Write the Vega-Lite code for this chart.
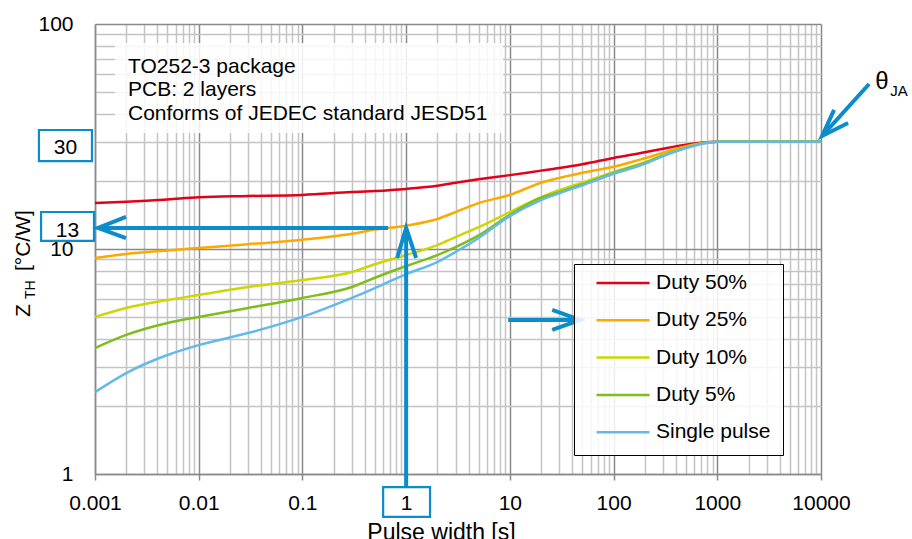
{
  "$schema": "https://vega.github.io/schema/vega-lite/v6.json",
  "width": 726,
  "height": 450,
  "autosize": {"type": "none"},
  "padding": {"left": 95, "top": 24, "right": 91, "bottom": 65},
  "background": "white",
  "config": {
    "font": "Liberation Sans",
    "view": {"stroke": null},
    "text": {"font": "Liberation Sans", "color": "#000"}
  },
  "datasets": {
    "curves": [
      {"s": "Duty 50%", "t": 0.001, "z": 16.0}, {"s": "Duty 50%", "t": 0.002, "z": 16.2}, {"s": "Duty 50%", "t": 0.005, "z": 16.6}, {"s": "Duty 50%", "t": 0.01, "z": 17.0}, {"s": "Duty 50%", "t": 0.03, "z": 17.2}, {"s": "Duty 50%", "t": 0.1, "z": 17.4}, {"s": "Duty 50%", "t": 0.3, "z": 17.9}, {"s": "Duty 50%", "t": 0.5, "z": 18.1}, {"s": "Duty 50%", "t": 1, "z": 18.5}, {"s": "Duty 50%", "t": 2, "z": 19.1}, {"s": "Duty 50%", "t": 3, "z": 19.7}, {"s": "Duty 50%", "t": 5, "z": 20.4}, {"s": "Duty 50%", "t": 10, "z": 21.3}, {"s": "Duty 50%", "t": 20, "z": 22.3}, {"s": "Duty 50%", "t": 30, "z": 22.9}, {"s": "Duty 50%", "t": 50, "z": 23.8}, {"s": "Duty 50%", "t": 100, "z": 25.4}, {"s": "Duty 50%", "t": 200, "z": 26.9}, {"s": "Duty 50%", "t": 300, "z": 27.9}, {"s": "Duty 50%", "t": 500, "z": 29.1}, {"s": "Duty 50%", "t": 700, "z": 29.7}, {"s": "Duty 50%", "t": 1000, "z": 30}, {"s": "Duty 50%", "t": 2000, "z": 30}, {"s": "Duty 50%", "t": 10000, "z": 30},
      {"s": "Duty 25%", "t": 0.001, "z": 9.12}, {"s": "Duty 25%", "t": 0.002, "z": 9.5}, {"s": "Duty 25%", "t": 0.005, "z": 9.85}, {"s": "Duty 25%", "t": 0.01, "z": 10.1}, {"s": "Duty 25%", "t": 0.03, "z": 10.5}, {"s": "Duty 25%", "t": 0.1, "z": 11.0}, {"s": "Duty 25%", "t": 0.3, "z": 11.7}, {"s": "Duty 25%", "t": 0.5, "z": 12.2}, {"s": "Duty 25%", "t": 1, "z": 12.7}, {"s": "Duty 25%", "t": 2, "z": 13.6}, {"s": "Duty 25%", "t": 3, "z": 14.6}, {"s": "Duty 25%", "t": 5, "z": 16.0}, {"s": "Duty 25%", "t": 10, "z": 17.4}, {"s": "Duty 25%", "t": 20, "z": 19.7}, {"s": "Duty 25%", "t": 30, "z": 20.7}, {"s": "Duty 25%", "t": 50, "z": 21.8}, {"s": "Duty 25%", "t": 100, "z": 23.2}, {"s": "Duty 25%", "t": 200, "z": 25.3}, {"s": "Duty 25%", "t": 300, "z": 26.8}, {"s": "Duty 25%", "t": 500, "z": 28.6}, {"s": "Duty 25%", "t": 700, "z": 29.5}, {"s": "Duty 25%", "t": 1000, "z": 30}, {"s": "Duty 25%", "t": 2000, "z": 30}, {"s": "Duty 25%", "t": 10000, "z": 30},
      {"s": "Duty 10%", "t": 0.001, "z": 4.99}, {"s": "Duty 10%", "t": 0.002, "z": 5.47}, {"s": "Duty 10%", "t": 0.005, "z": 5.93}, {"s": "Duty 10%", "t": 0.01, "z": 6.25}, {"s": "Duty 10%", "t": 0.03, "z": 6.78}, {"s": "Duty 10%", "t": 0.1, "z": 7.28}, {"s": "Duty 10%", "t": 0.3, "z": 7.9}, {"s": "Duty 10%", "t": 0.5, "z": 8.55}, {"s": "Duty 10%", "t": 1, "z": 9.4}, {"s": "Duty 10%", "t": 2, "z": 10.4}, {"s": "Duty 10%", "t": 3, "z": 11.3}, {"s": "Duty 10%", "t": 5, "z": 12.5}, {"s": "Duty 10%", "t": 10, "z": 14.6}, {"s": "Duty 10%", "t": 20, "z": 17.0}, {"s": "Duty 10%", "t": 30, "z": 18.3}, {"s": "Duty 10%", "t": 50, "z": 19.7}, {"s": "Duty 10%", "t": 100, "z": 22.0}, {"s": "Duty 10%", "t": 200, "z": 24.3}, {"s": "Duty 10%", "t": 300, "z": 26.2}, {"s": "Duty 10%", "t": 500, "z": 28.3}, {"s": "Duty 10%", "t": 700, "z": 29.4}, {"s": "Duty 10%", "t": 1000, "z": 30}, {"s": "Duty 10%", "t": 2000, "z": 30}, {"s": "Duty 10%", "t": 10000, "z": 30},
      {"s": "Duty 5%", "t": 0.001, "z": 3.63}, {"s": "Duty 5%", "t": 0.002, "z": 4.15}, {"s": "Duty 5%", "t": 0.005, "z": 4.69}, {"s": "Duty 5%", "t": 0.01, "z": 4.99}, {"s": "Duty 5%", "t": 0.03, "z": 5.47}, {"s": "Duty 5%", "t": 0.1, "z": 6.06}, {"s": "Duty 5%", "t": 0.3, "z": 6.78}, {"s": "Duty 5%", "t": 0.5, "z": 7.45}, {"s": "Duty 5%", "t": 1, "z": 8.4}, {"s": "Duty 5%", "t": 2, "z": 9.4}, {"s": "Duty 5%", "t": 3, "z": 10.2}, {"s": "Duty 5%", "t": 5, "z": 11.5}, {"s": "Duty 5%", "t": 10, "z": 14.2}, {"s": "Duty 5%", "t": 20, "z": 16.9}, {"s": "Duty 5%", "t": 30, "z": 17.9}, {"s": "Duty 5%", "t": 50, "z": 19.4}, {"s": "Duty 5%", "t": 100, "z": 21.8}, {"s": "Duty 5%", "t": 200, "z": 24.1}, {"s": "Duty 5%", "t": 300, "z": 26.0}, {"s": "Duty 5%", "t": 500, "z": 28.2}, {"s": "Duty 5%", "t": 700, "z": 29.4}, {"s": "Duty 5%", "t": 1000, "z": 30}, {"s": "Duty 5%", "t": 2000, "z": 30}, {"s": "Duty 5%", "t": 10000, "z": 30},
      {"s": "Single pulse", "t": 0.001, "z": 2.31}, {"s": "Single pulse", "t": 0.002, "z": 2.81}, {"s": "Single pulse", "t": 0.005, "z": 3.38}, {"s": "Single pulse", "t": 0.01, "z": 3.74}, {"s": "Single pulse", "t": 0.03, "z": 4.23}, {"s": "Single pulse", "t": 0.1, "z": 4.99}, {"s": "Single pulse", "t": 0.3, "z": 6.06}, {"s": "Single pulse", "t": 0.5, "z": 6.7}, {"s": "Single pulse", "t": 1, "z": 7.74}, {"s": "Single pulse", "t": 2, "z": 8.75}, {"s": "Single pulse", "t": 3, "z": 9.7}, {"s": "Single pulse", "t": 5, "z": 11.2}, {"s": "Single pulse", "t": 10, "z": 14.0}, {"s": "Single pulse", "t": 20, "z": 16.5}, {"s": "Single pulse", "t": 30, "z": 17.7}, {"s": "Single pulse", "t": 50, "z": 19.2}, {"s": "Single pulse", "t": 100, "z": 21.6}, {"s": "Single pulse", "t": 200, "z": 23.9}, {"s": "Single pulse", "t": 300, "z": 25.9}, {"s": "Single pulse", "t": 500, "z": 28.1}, {"s": "Single pulse", "t": 700, "z": 29.3}, {"s": "Single pulse", "t": 1000, "z": 30}, {"s": "Single pulse", "t": 2000, "z": 30}, {"s": "Single pulse", "t": 10000, "z": 30}
    ],
    "notebox": [
      {"t": 0.00156, "t2": 8.59, "z": 82.4, "z2": 32.8}
    ],
    "notes": [
      {"t": 0.00208, "z": 60.6, "label": "TO252-3 package"},
      {"t": 0.00208, "z": 47.9, "label": "PCB: 2 layers"},
      {"t": 0.00208, "z": 37.4, "label": "Conforms of JEDEC standard  JESD51"}
    ],
    "blueboxes": [
      {"t": 0.000288, "t2": 0.000935, "z": 33.8, "z2": 24.6},
      {"t": 0.000302, "t2": 0.000978, "z": 14.6, "z2": 10.86},
      {"t": 0.6, "t2": 1.70, "z": 0.875, "z2": 0.645}
    ],
    "boxtext": [
      {"t": 0.00052, "z": 26.4, "label": "30"},
      {"t": 0.000543, "z": 11.3, "label": "13"}
    ],
    "arrows": [
      {"id": "a1s", "o": 1, "t": 0.67, "z": 12.4}, {"id": "a1s", "o": 2, "t": 0.00107, "z": 12.4},
      {"id": "a1h", "o": 1, "t": 0.00199, "z": 13.88}, {"id": "a1h", "o": 2, "t": 0.00107, "z": 12.4}, {"id": "a1h", "o": 3, "t": 0.00199, "z": 11.19},
      {"id": "a2s", "o": 1, "t": 1, "z": 0.88}, {"id": "a2s", "o": 2, "t": 1, "z": 12.4},
      {"id": "a2h", "o": 1, "t": 0.819, "z": 9.12}, {"id": "a2h", "o": 2, "t": 1, "z": 12.4}, {"id": "a2h", "o": 3, "t": 1.249, "z": 9.12},
      {"id": "a3s", "o": 1, "t": 9.63, "z": 4.84}, {"id": "a3s", "o": 2, "t": 47.6, "z": 4.84},
      {"id": "a3h", "o": 1, "t": 25.6, "z": 5.36}, {"id": "a3h", "o": 2, "t": 47.6, "z": 4.84}, {"id": "a3h", "o": 3, "t": 25.6, "z": 4.37},
      {"id": "a4s", "o": 1, "t": 29100, "z": 54.1}, {"id": "a4s", "o": 2, "t": 10257, "z": 31.8},
      {"id": "a4h", "o": 1, "t": 13370, "z": 41.5}, {"id": "a4h", "o": 2, "t": 10257, "z": 31.8}, {"id": "a4h", "o": 3, "t": 18240, "z": 36.3}
    ],
    "theta": [{"t": 33270, "z": 51.4, "label": "θ"}],
    "thetasub": [{"t": 46500, "z": 47.9, "label": "JA"}],
    "ytitle": [
      {"t": 0.000236, "z": 4.99, "label": "Z"},
      {"t": 0.000236, "z": 7.98, "label": "[°C/W]"}
    ],
    "ytitlesub": [{"t": 0.000264, "z": 5.99, "label": "TH"}]
  },
  "encoding": {
    "x": {
      "field": "t", "type": "quantitative",
      "scale": {"type": "log", "domain": [0.001, 10000], "nice": false},
      "axis": {
        "values": [0.001,0.002,0.003,0.004,0.005,0.006,0.007,0.008,0.009,0.01,0.02,0.03,0.04,0.05,0.06,0.07,0.08,0.09,0.1,0.2,0.3,0.4,0.5,0.6,0.7,0.8,0.9,1,2,3,4,5,6,7,8,9,10,20,30,40,50,60,70,80,90,100,200,300,400,500,600,700,800,900,1000,2000,3000,4000,5000,6000,7000,8000,9000,10000],
        "labelExpr": "indexof([0.001,0.01,0.1,1,10,100,1000,10000], datum.value) >= 0 ? format(datum.value, '~g') : ''",
        "labelFontSize": 21, "labelFont": "Liberation Sans", "labelColor": "#000",
        "labelBaseline": "middle", "labelPadding": 23, "labelOverlap": false, "labelBound": false, "labelFlush": false,
        "grid": true,
        "gridColor": {"condition": {"test": "indexof([0.001,0.01,0.1,1,10,100,1000,10000], datum.value) >= 0", "value": "#8a8a8a"}, "value": "#c4c4c4"},
        "gridWidth": 1.5,
        "tickColor": {"condition": {"test": "indexof([0.001,0.01,0.1,1,10,100,1000,10000], datum.value) >= 0", "value": "#8a8a8a"}, "value": "rgba(0,0,0,0)"},
        "tickSize": 6, "tickWidth": 1.5,
        "domainColor": "#8a8a8a", "domainWidth": 1.5,
        "title": "Pulse width [s]", "titleFontSize": 23, "titleFontWeight": "normal", "titleFont": "Liberation Sans", "titleColor": "#000",
        "titleX": 346, "titleY": 65, "titleAlign": "center", "titleBaseline": "alphabetic"
      }
    },
    "y": {
      "field": "z", "type": "quantitative",
      "scale": {"type": "log", "domain": [1, 100], "nice": false},
      "axis": {
        "values": [1,2,3,4,5,6,7,8,9,10,20,30,40,50,60,70,80,90,100],
        "labelExpr": "indexof([1,10,100], datum.value) >= 0 ? format(datum.value, '~g') : ''",
        "labelFontSize": 21, "labelFont": "Liberation Sans", "labelColor": "#000",
        "labelPadding": 22, "labelOverlap": false, "labelBound": false, "labelFlush": false,
        "ticks": false,
        "grid": true,
        "gridColor": {"condition": {"test": "indexof([1,10,100], datum.value) >= 0", "value": "#8a8a8a"}, "value": "#c4c4c4"},
        "gridWidth": 1.5,
        "domainColor": "#8a8a8a", "domainWidth": 1.5,
        "title": null
      }
    }
  },
  "layer": [
    {
      "data": {"name": "notebox"},
      "mark": {"type": "rect", "fill": "white", "fillOpacity": 0.85, "stroke": null},
      "encoding": {"x2": {"field": "t2"}, "y2": {"field": "z2"}}
    },
    {
      "data": {"name": "curves"},
      "mark": {"type": "line", "strokeWidth": 2.5, "interpolate": "monotone"},
      "encoding": {
        "color": {
          "field": "s", "type": "nominal",
          "scale": {"domain": ["Duty 50%", "Duty 25%", "Duty 10%", "Duty 5%", "Single pulse"], "range": ["#e2001a", "#faaa00", "#ccd600", "#80bc1c", "#63b9e9"]},
          "legend": {
            "title": null, "orient": "none", "legendX": 479, "legendY": 240,
            "symbolType": "stroke", "symbolSize": 2809, "symbolStrokeWidth": 2.5,
            "labelFontSize": 21, "labelFont": "Liberation Sans", "labelColor": "#000", "labelOffset": 5,
            "padding": 12, "symbolOffset": 9, "rowPadding": 16.3, "clipHeight": 14,
            "strokeColor": "#000", "fillColor": "rgba(255,255,255,0.85)",
            "labelLimit": 300
          }
        }
      }
    },
    {
      "data": {"name": "notes"},
      "mark": {"type": "text", "align": "left", "baseline": "alphabetic", "fontSize": 21, "font": "Liberation Sans", "color": "#000"},
      "encoding": {"text": {"field": "label"}}
    },
    {
      "data": {"name": "blueboxes"},
      "mark": {"type": "rect", "fill": null, "fillOpacity": 0, "stroke": "#0c8ccb", "strokeWidth": 2.2},
      "encoding": {"x2": {"field": "t2"}, "y2": {"field": "z2"}}
    },
    {
      "data": {"name": "boxtext"},
      "mark": {"type": "text", "align": "center", "baseline": "alphabetic", "fontSize": 21, "font": "Liberation Sans", "color": "#000"},
      "encoding": {"text": {"field": "label"}}
    },
    {
      "data": {"name": "arrows"},
      "mark": {"type": "line", "stroke": "#0c8ccb", "strokeWidth": 4, "strokeJoin": "miter", "strokeCap": "butt"},
      "encoding": {"detail": {"field": "id"}, "order": {"field": "o"}}
    },
    {
      "data": {"name": "theta"},
      "mark": {"type": "text", "align": "left", "baseline": "alphabetic", "fontSize": 24, "font": "Liberation Sans", "color": "#000"},
      "encoding": {"text": {"field": "label"}}
    },
    {
      "data": {"name": "thetasub"},
      "mark": {"type": "text", "align": "left", "baseline": "alphabetic", "fontSize": 15, "font": "Liberation Sans", "color": "#000"},
      "encoding": {"text": {"field": "label"}}
    },
    {
      "data": {"name": "ytitle"},
      "mark": {"type": "text", "align": "left", "baseline": "alphabetic", "angle": 270, "fontSize": 21, "font": "Liberation Sans", "color": "#000"},
      "encoding": {"text": {"field": "label"}}
    },
    {
      "data": {"name": "ytitlesub"},
      "mark": {"type": "text", "align": "left", "baseline": "alphabetic", "angle": 270, "fontSize": 14, "font": "Liberation Sans", "color": "#000"},
      "encoding": {"text": {"field": "label"}}
    }
  ]
}
